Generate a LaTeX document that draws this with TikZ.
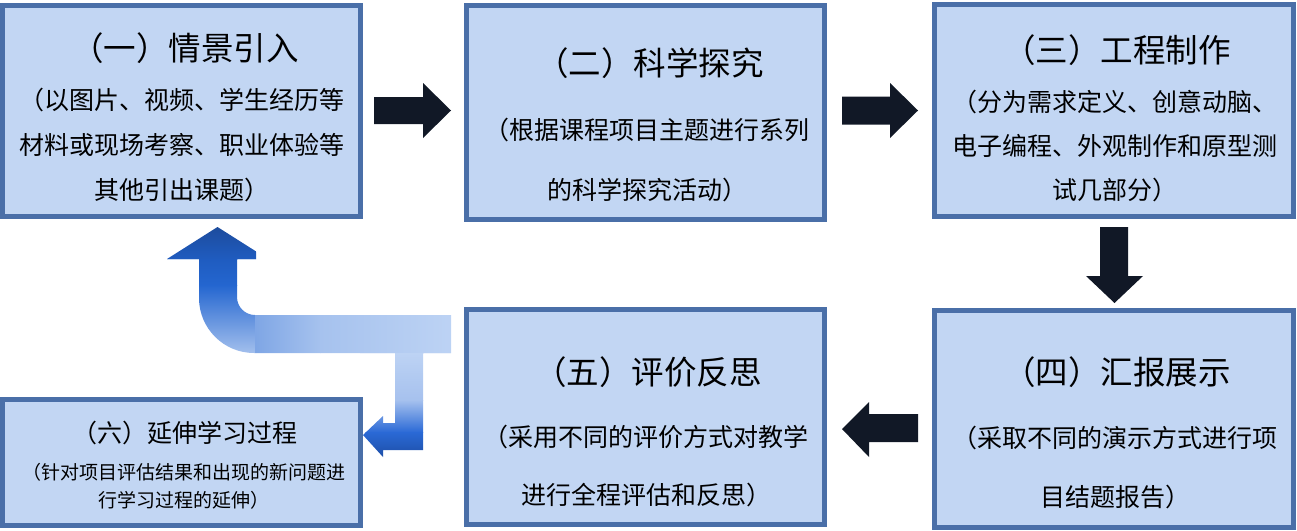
\documentclass[tikz,border=0pt]{standalone}
\usepackage{fontspec}
\setmainfont{Noto Sans CJK SC}
\definecolor{boxfill}{HTML}{C2D6F3}
\definecolor{boxline}{HTML}{4A6FA8}
\definecolor{arrowc}{HTML}{111826}
\definecolor{bA}{HTML}{1D4A9A}
\definecolor{bB}{HTML}{1F5CC0}
\definecolor{bC}{HTML}{2466D0}
\definecolor{bD}{HTML}{A8C3EE}
\definecolor{bE}{HTML}{7FA6E5}
\definecolor{bE2}{HTML}{A6C2EE}
\definecolor{bF}{HTML}{BDD3F4}
\definecolor{bG}{HTML}{A6C1EE}
\definecolor{bH}{HTML}{2A69D6}
\definecolor{bI}{HTML}{1C4CA2}
\tikzset{
  boxnode/.style={draw=boxline, fill=boxfill, line width=5pt, inner sep=0pt},
  titletext/.style={font=\fontsize{32.5}{38}\selectfont, inner sep=0pt, anchor=center},
  bodytext/.style={align=center, inner sep=0pt, anchor=center},
  blockarrow/.style={fill=arrowc}
}
\begin{document}
\begin{tikzpicture}[x=1pt,y=-1pt]
\useasboundingbox (0,0) rectangle (1297,530);

% boxes
\node[boxnode, minimum width=358.3pt, minimum height=211pt] (b1) at (181.7,110.5) {};
\node[boxnode, minimum width=357.5pt, minimum height=214pt] (b2) at (645.3,112) {};
\node[boxnode, minimum width=358.5pt, minimum height=212pt] (b3) at (1113.8,110) {};
\node[boxnode, minimum width=359pt, minimum height=217pt] (b4) at (1114,419) {};
\node[boxnode, minimum width=358pt, minimum height=215pt] (b5) at (645.5,417) {};
\node[boxnode, minimum width=358pt, minimum height=126pt] (b6) at (181.5,462.5) {};

% texts
\node[titletext] (t1) at (185,48) {（一）情景引入};
\node[bodytext, font=\fontsize{25}{45}\selectfont] (d1) at (182,145) {（以图片、视频、学生经历等\\材料或现场考察、职业体验等\\其他引出课题）};
\node[titletext] (t2) at (650,63) {（二）科学探究};
\node[bodytext, font=\fontsize{25}{60}\selectfont] (d2) at (647,160) {（根据课程项目主题进行系列\\的科学探究活动）};
\node[titletext] (t3) at (1117,50) {（三）工程制作};
\node[bodytext, font=\fontsize{25}{44}\selectfont] (d3) at (1115,146) {（分为需求定义、创意动脑、\\电子编程、外观制作和原型测\\试几部分）};
\node[titletext] (t4) at (1117,372) {（四）汇报展示};
\node[bodytext, font=\fontsize{25}{59}\selectfont] (d4) at (1115,467.5) {（采取不同的演示方式进行项\\目结题报告）};
\node[titletext] (t5) at (648,372) {（五）评价反思};
\node[bodytext, font=\fontsize{25}{58}\selectfont] (d5) at (646,466) {（采用不同的评价方式对教学\\进行全程评估和反思）};
\node[titletext, font=\fontsize{25}{28}\selectfont] (t6) at (185,433) {（六）延伸学习过程};
\node[bodytext, font=\fontsize{19}{28}\selectfont] (d6) at (184,486) {（针对项目评估结果和出现的新问题进\\行学习过程的延伸）};

% black block arrows
\fill[blockarrow] (374,97) -- (423,97) -- (423,83) -- (451,110.5) -- (423,138) -- (423,124) -- (374,124) -- cycle;
\fill[blockarrow] (842,96.5) -- (890,96.5) -- (890,83) -- (918,110.5) -- (890,138) -- (890,124.5) -- (842,124.5) -- cycle;
\fill[blockarrow] (1100,227) -- (1128,227) -- (1128,276) -- (1143,276) -- (1114.5,303) -- (1086,276) -- (1100,276) -- cycle;
\fill[blockarrow] (918,414) -- (869,414) -- (869,402) -- (842,429) -- (869,457) -- (869,442) -- (918,442) -- cycle;

% blue bent arrow
\begin{scope}
\clip (217.5,227) -- (268,259) -- (237,259) -- (237,297)
  arc[start angle=180, end angle=90, radius=18] -- (451,315) -- (451,353)
  -- (423,353) -- (423,450) -- (383,450) -- (383,457) -- (363,435)
  -- (383,416) -- (383,423) -- (395,423) -- (395,353) -- (254,353)
  arc[start angle=90, end angle=180, radius=55] -- (199,259) -- (167,259) -- cycle;
\shade[top color=bA, bottom color=bB] (160,224) rectangle (256,259.5);
\shade[top color=bB, bottom color=bC] (160,259) rectangle (256,285.5);
\shade[top color=bC, bottom color=bD] (160,285) rectangle (256,356);
\shade[left color=bE, right color=bE2] (255.5,312) rectangle (320.5,353.5);
\shade[left color=bE2, right color=bF] (320,312) rectangle (453,353.5);
\shade[top color=bF, bottom color=bG] (360,353) rectangle (453,400.5);
\shade[top color=bG, bottom color=bH] (360,400) rectangle (453,432.5);
\shade[top color=bH, bottom color=bI] (360,432) rectangle (453,460);
\end{scope}
\end{tikzpicture}
\end{document}
